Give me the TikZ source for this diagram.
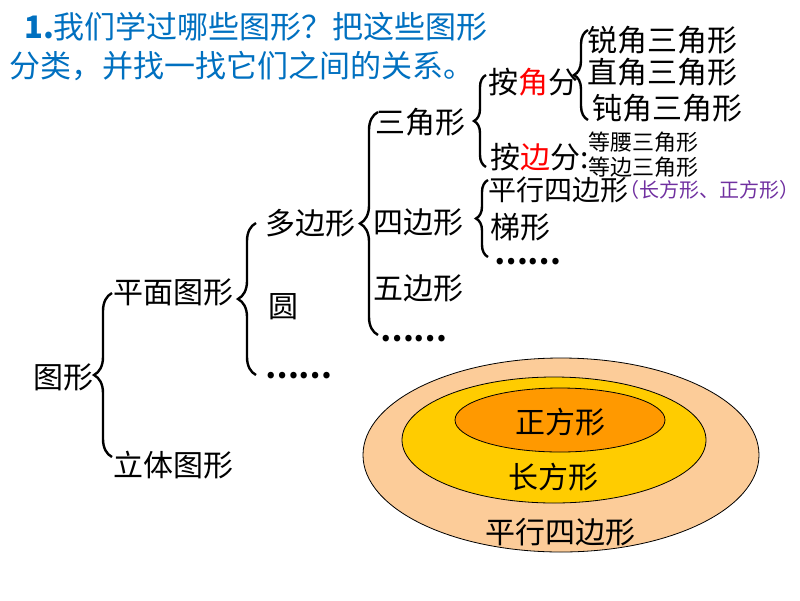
\documentclass[tikz,border=0pt]{standalone}
\usepackage{fontspec}
\setmainfont{Noto Sans CJK SC}
\usetikzlibrary{decorations.pathreplacing}
\definecolor{titleblue}{RGB}{0,112,192}
\definecolor{notepurple}{RGB}{112,48,160}
\definecolor{peach}{RGB}{252,204,153}
\definecolor{gold}{RGB}{255,204,0}
\definecolor{deeporange}{RGB}{255,153,0}
\begin{document}
\begin{tikzpicture}[x=1pt,y=-1pt,
    txt/.style={anchor=west,inner sep=0pt,font=\fontsize{30}{36}\selectfont},
    small/.style={anchor=west,inner sep=0pt,font=\fontsize{22}{26}\selectfont},
    more/.style={anchor=base west,inner sep=0pt,text height=5pt,text depth=0pt,
        font=\bfseries\fontsize{30}{36}\selectfont},
    brace/.style={decorate,decoration={brace,amplitude=#1},line width=2.4pt},
    brace/.default=18pt,
    ring/.style={draw,line width=0.8pt}]
    \useasboundingbox (0,0) rectangle (800,600);
    % title
    \node[txt,text=titleblue,font=\fontsize{31}{36}\selectfont] (q1) at (24,27) {\textbf{1.}我们学过哪些图形？把这些图形};
    \node[txt,text=titleblue,font=\fontsize{31}{36}\selectfont] (q2) at (9,66) {分类，并找一找它们之间的关系。};
    % tree
    \node[txt] (tuxing) at (33,377) {图形};
    \node[txt] (pingmian) at (113,292) {平面图形};
    \node[txt] (liti) at (113,465) {立体图形};
    \node[txt] (duobian) at (265,223) {多边形};
    \node[txt] (yuan) at (268,307) {圆};
    \node[more] (dotsa) at (265,378) {……};
    \node[txt] (sanjiao) at (375,122) {三角形};
    \node[txt] (sibian) at (373,222) {四边形};
    \node[txt] (wubian) at (373,288) {五边形};
    \node[more] (dotsb) at (380,341) {……};
    \node[txt] (anjiao) at (488,82) {按\textcolor{red}{角}分};
    \node[txt] (anbian) at (490,157) {按\textcolor{red}{边}分:};
    \node[txt] (rui) at (587,40) {锐角三角形};
    \node[txt] (zhi) at (587,72) {直角三角形};
    \node[txt] (dun) at (592,108) {钝角三角形};
    \node[small] (dengyao) at (588,142) {等腰三角形};
    \node[small] (dengbian) at (588,167) {等边三角形};
    \node[txt,font=\fontsize{28}{34}\selectfont] (pingxing) at (488,190) {平行四边形};
    \node[small,text=notepurple,font=\fontsize{20}{24}\selectfont] (note) at (619,190) {（长方形、正方形）};
    \node[txt] (tixing) at (490,227) {梯形};
    \node[more] (dotsc) at (494,264) {……};
    % brace ends
    \coordinate (b1top) at (112,293);
    \coordinate (b1bot) at (112,457);
    \coordinate (b2top) at (256,223);
    \coordinate (b2bot) at (256,375);
    \coordinate (b3top) at (378,112);
    \coordinate (b3bot) at (378,335);
    \coordinate (b4top) at (486,75);
    \coordinate (b4bot) at (486,167);
    \coordinate (b5top) at (588,30);
    \coordinate (b5bot) at (588,120);
    \coordinate (b6top) at (488,180);
    \coordinate (b6bot) at (488,257);
    \draw[brace] (b1bot) -- (b1top);
    \draw[brace] (b2bot) -- (b2top);
    \draw[brace] (b3bot) -- (b3top);
    \draw[brace=12pt] (b4bot) -- (b4top);
    \draw[brace=14pt] (b5bot) -- (b5top);
    \draw[brace=12pt] (b6bot) -- (b6top);
    % nested sets
    \draw[ring,fill=peach] (561,455) ellipse [x radius=198pt,y radius=97pt];
    \draw[ring,fill=gold] (554,440) ellipse [x radius=152pt,y radius=63pt];
    \draw[ring,fill=deeporange] (560,420) ellipse [x radius=105pt,y radius=32pt];
    \node[txt,anchor=center] (zheng) at (560,422) {正方形};
    \node[txt,anchor=center] (chang) at (553,477) {长方形};
    \node[txt,anchor=center] (pxsb) at (560,532) {平行四边形};
\end{tikzpicture}
\end{document}
